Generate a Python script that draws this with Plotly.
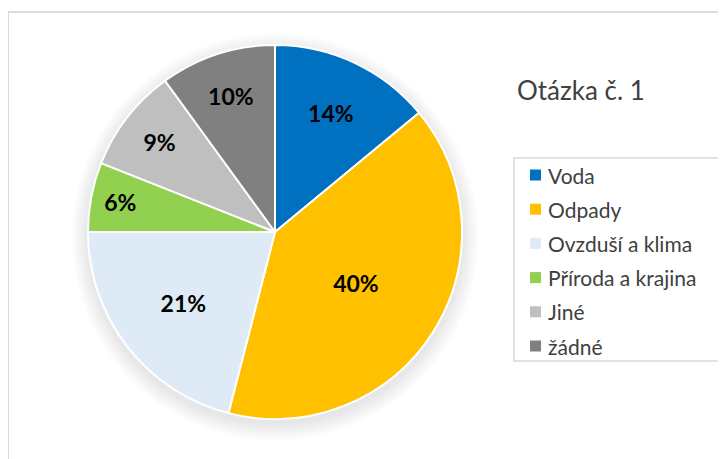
import plotly.graph_objects as go

categories = ["Voda", "Odpady", "Ovzduší a klima", "Příroda a krajina", "Jiné", "žádné"]
values = [14, 40, 21, 6, 9, 10]
colors = ["#0070C0", "#FFC000", "#DEEBF7", "#92D050", "#BFBFBF", "#808080"]
title_text = "Otázka č. 1"

W, H = 726, 459
OFF = 8  # page body margin
cx, cy, R = 275, 232, 187

def px(x):
    return (x - OFF) / W

def py(y):
    return 1 - (y - OFF) / H

fig = go.Figure()
fig.add_trace(go.Pie(
    labels=categories, values=values, sort=False, direction="clockwise", rotation=0,
    marker=dict(colors=colors, line=dict(color="white", width=2)),
    texttemplate="<b>%{value}%</b>", textposition="inside", insidetextorientation="horizontal",
    textfont=dict(family="Lato", size=23, color="black"),
    domain=dict(x=[px(cx - R), px(cx + R)], y=[py(cy + R), py(cy - R)]),
    showlegend=False, hoverinfo="label+percent",
))

shapes = []
# outer border
shapes.append(dict(type="rect", xref="paper", yref="paper", x0=px(8), x1=px(760), y0=py(520), y1=py(12),
                   line=dict(color="#D0D0D0", width=1.5), fillcolor="rgba(0,0,0,0)", layer="below"))
# soft shadow
for i in range(12, 0, -1):
    r = R + i * 1.4
    shapes.append(dict(type="circle", xref="paper", yref="paper",
                       x0=px(cx - r), x1=px(cx + r), y0=py(cy + 5 + r), y1=py(cy + 5 - r),
                       line=dict(width=0), fillcolor="rgba(0,0,0,0.008)", layer="below"))
# legend box
shapes.append(dict(type="rect", xref="paper", yref="paper", x0=px(514), x1=px(720), y0=py(361), y1=py(158),
                   line=dict(color="#D9D9D9", width=1.5), fillcolor="white", layer="below"))

annotations = []
annotations.append(dict(text=title_text, xref="paper", yref="paper", x=px(515), y=py(90), xanchor="left",
                        yanchor="middle", showarrow=False, font=dict(family="Lato", size=26, color="#404040")))
for i, (c, col) in enumerate(zip(categories, colors)):
    yy = 175 + i * 34.2
    shapes.append(dict(type="rect", xref="paper", yref="paper", x0=px(530), x1=px(541), y0=py(yy + 5.5), y1=py(yy - 5.5),
                       line=dict(width=0), fillcolor=col))
    annotations.append(dict(text=c, xref="paper", yref="paper", x=px(546), y=py(yy), xanchor="left", yanchor="middle",
                            showarrow=False, font=dict(family="Lato", size=21, color="#404040")))

fig.update_layout(width=W, height=H, margin=dict(l=0, r=0, t=0, b=0), paper_bgcolor="white",
                  plot_bgcolor="white", shapes=shapes, annotations=annotations)
fig.write_html("out.html")
